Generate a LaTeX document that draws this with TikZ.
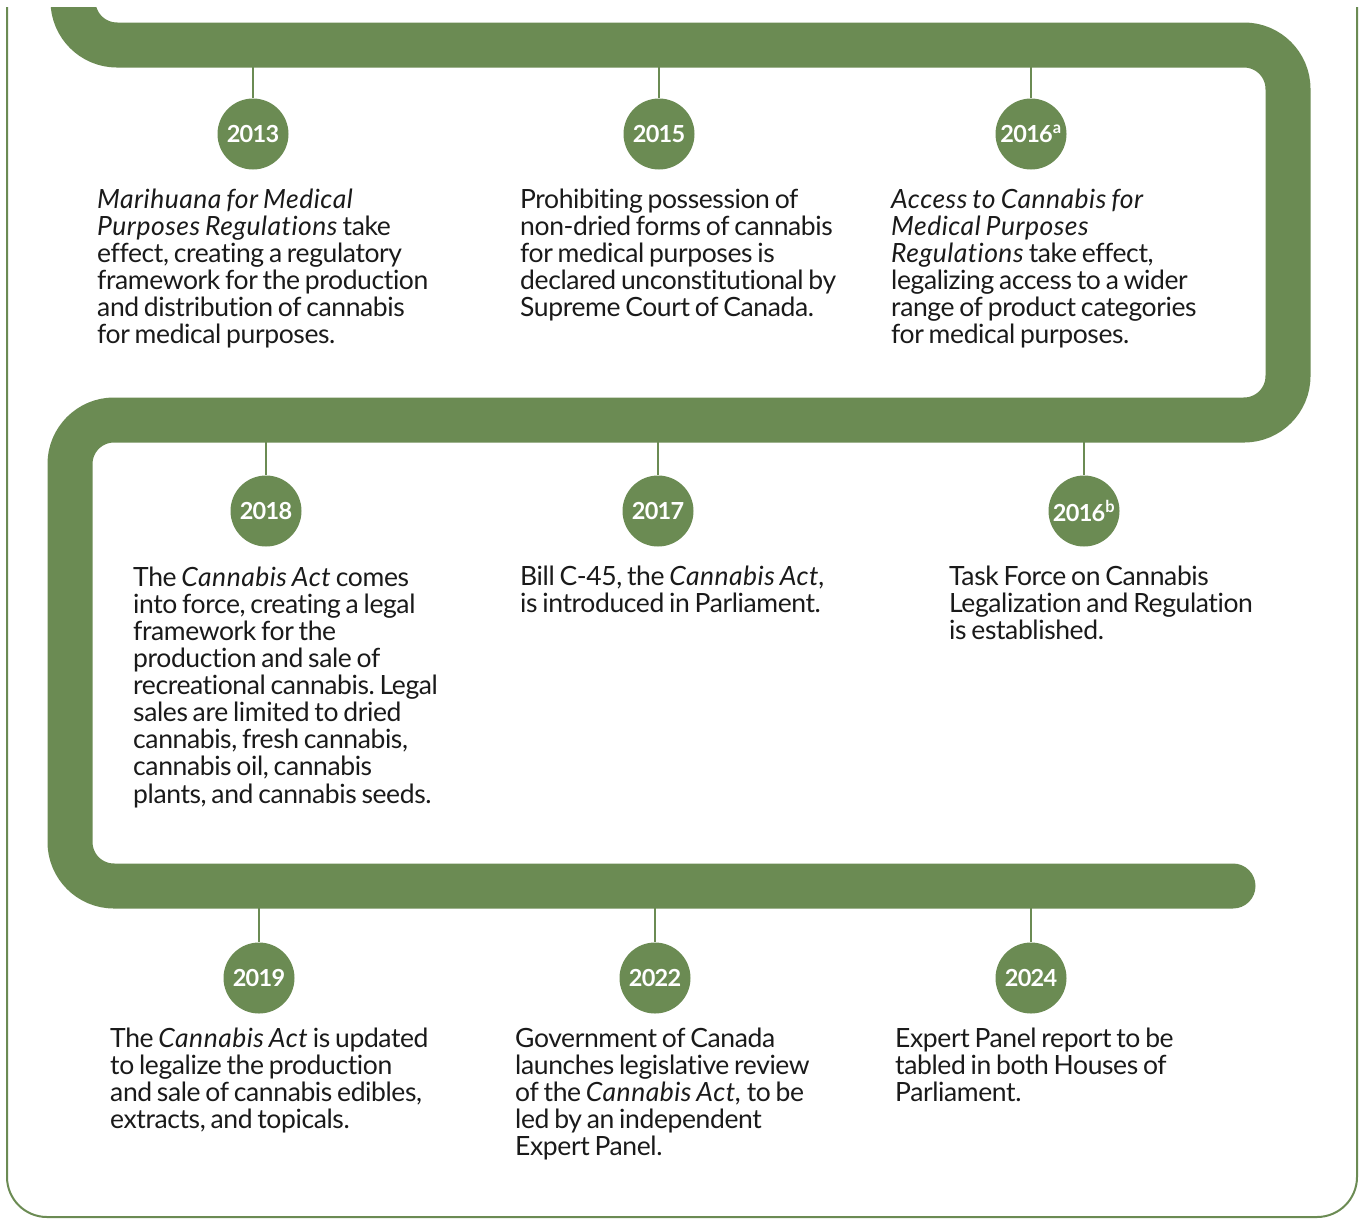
\documentclass[tikz,border=0pt]{standalone}
\usepackage{fontspec}
\setmainfont{Lato}[LetterSpace=-1.5,WordSpace=0.75,Ligatures=NoCommon]
\newfontfamily\yearfont{Lato}[LetterSpace=-3]
\usepackage{tikz}
\definecolor{leafgreen}{RGB}{107,139,83}
\definecolor{inkgray}{RGB}{26,26,26}
\tikzset{
  band/.style={draw=leafgreen, line width=45pt, line cap=round, rounded corners=44pt},
  tick/.style={draw=leafgreen, line width=2pt},
  yearball/.style={circle, fill=leafgreen, minimum size=71pt, inner sep=0pt,
    text=white, font=\yearfont\bfseries\fontsize{23.5}{24}\selectfont},
  entry/.style={anchor=north west, align=left, inner sep=0pt, text=inkgray,
    font=\fontsize{26.5}{27.1}\selectfont},
}
\newcommand{\firstline}{\rule{0pt}{20pt}}
\newcommand{\ttl}[1]{\textit{\addfontfeature{LetterSpace=1.8}#1}}
\frenchspacing
\begin{document}
\begin{tikzpicture}[x=1pt,y=1pt,yscale=-1]
\useasboundingbox (0,0) rectangle (1360,1219);
% frame
\draw [leafgreen, line width=2pt, rounded corners=40pt] (7,7) -- (7,1217) -- (1357,1217) -- (1357,7);
% the winding band
\begin{scope}
\clip (0,7) rectangle (1360,1219);
\draw [band] (73,-80) -- (73,45) -- (1288,45) -- (1288,420) -- (70,420) -- (70,886) -- (1233,886);
\end{scope}
% points on the band
\coordinate (b2013) at (253,45);
\coordinate (b2015) at (659,45);
\coordinate (b2016a) at (1031,45);
\coordinate (b2018) at (266,420);
\coordinate (b2017) at (658,420);
\coordinate (b2016b) at (1084,420);
\coordinate (b2019) at (259,886);
\coordinate (b2022) at (655,886);
\coordinate (b2024) at (1031,886);
% year markers
\node [yearball] (y2013) at (253,134) {2013};
\node [yearball] (y2015) at (659,134) {2015};
\node [yearball] (y2016a) at (1031,134) {2016\textsuperscript{a}};
\node [yearball] (y2018) at (266,511) {2018};
\node [yearball] (y2017) at (658,511) {2017};
\node [yearball] (y2016b) at (1084,511) {2016\textsuperscript{b}};
\node [yearball] (y2019) at (259,978) {2019};
\node [yearball] (y2022) at (655,978) {2022};
\node [yearball] (y2024) at (1031,978) {2024};
\foreach \yr in {2013,2015,2016a,2018,2017,2016b,2019,2022,2024}
  \draw [tick] (b\yr) -- (y\yr);
% descriptions
\node [entry] (t2013) at (97,188) {\firstline\ttl{Marihuana for Medical}\\
  \ttl{Purposes Regulations} take\\ effect, creating a regulatory\\
  framework for the production\\ and distribution of cannabis\\ for medical purposes.};
\node [entry] (t2015) at (520,188) {\firstline Prohibiting possession of\\
  non-dried forms of cannabis\\ for medical purposes is\\
  declared unconstitutional by\\ Supreme Court of Canada.};
\node [entry] (t2016a) at (891,188) {\firstline\ttl{Access to Cannabis for}\\
  \ttl{Medical Purposes}\\ \ttl{Regulations} take effect,\\
  legalizing access to a wider\\ range of product categories\\ for medical purposes.};
\node [entry] (t2018) at (133,566) {\firstline The \ttl{Cannabis Act} comes\\
  into force, creating a legal\\ framework for the\\ production and sale of\\
  recreational cannabis. Legal\\ sales are limited to dried\\
  cannabis, fresh cannabis,\\ cannabis oil, cannabis\\ plants, and cannabis seeds.};
\node [entry] (t2017) at (520,565) {\firstline Bill C-45, the \ttl{Cannabis Act,}\\
  is introduced in Parliament.};
\node [entry] (t2016b) at (949,565) {\firstline Task Force on Cannabis\\
  Legalization and Regulation\\ is established.};
\node [entry] (t2019) at (110,1027) {\firstline The \ttl{Cannabis Act} is updated\\
  to legalize the production\\ and sale of cannabis edibles,\\ extracts, and topicals.};
\node [entry] (t2022) at (515,1027) {\firstline Government of Canada\\
  launches legislative review\\ of the \ttl{Cannabis Act,} to be\\
  led by an independent\\ Expert Panel.};
\node [entry] (t2024) at (895,1027) {\firstline Expert Panel report to be\\
  tabled in both Houses of\\ Parliament.};
\end{tikzpicture}
\end{document}
